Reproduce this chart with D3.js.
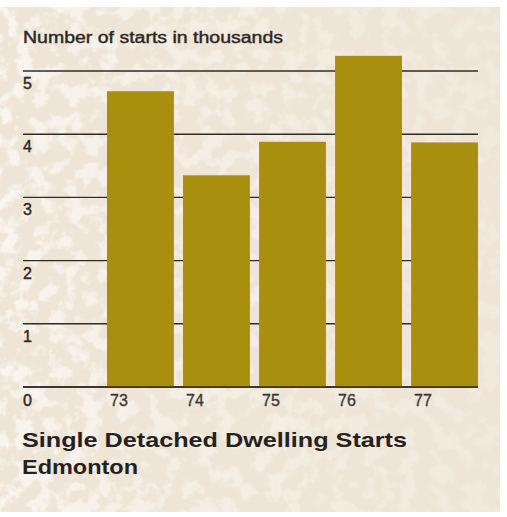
<!DOCTYPE html>
<html>
<head>
<meta charset="utf-8">
<script src="https://cdn.jsdelivr.net/npm/d3@7"></script>
<style>
  html, body { margin: 0; padding: 0; background: #ffffff; }
  svg { display: block; }
</style>
</head>
<body>
<svg id="chart" width="507" height="517"></svg>
<script>
// Single detached dwelling starts, Edmonton (thousands)
const years = ["73", "74", "75", "76", "77"];
const starts = [4.68, 3.35, 3.88, 5.24, 3.87];
const yTicks = [0, 1, 2, 3, 4, 5];

const svg = d3.select("#chart");

// Paper texture: beige panel with pale mottled patches, stronger toward the left
const defs = svg.append("defs");
const f = defs.append("filter").attr("id", "mottle")
  .attr("x", 0).attr("y", 0).attr("width", "100%").attr("height", "100%");
f.append("feTurbulence").attr("type", "fractalNoise")
  .attr("baseFrequency", "0.06").attr("numOctaves", 4).attr("seed", 7).attr("result", "n");
f.append("feColorMatrix").attr("in", "n").attr("type", "matrix")
  .attr("values", "0 0 0 0 1  0 0 0 0 1  0 0 0 0 1  0 0 0 -6 3.2").attr("result", "spots");
f.append("feComposite").attr("in", "spots").attr("in2", "SourceGraphic").attr("operator", "in");

const grad = defs.append("linearGradient").attr("id", "fade")
  .attr("x1", 0).attr("y1", 0).attr("x2", 1).attr("y2", 0);
grad.append("stop").attr("offset", "0").attr("stop-color", "#fff").attr("stop-opacity", 1);
grad.append("stop").attr("offset", "0.35").attr("stop-color", "#fff").attr("stop-opacity", 0.6);
grad.append("stop").attr("offset", "1").attr("stop-color", "#fff").attr("stop-opacity", 0.25);
defs.append("mask").attr("id", "fadeMask")
  .append("rect").attr("x", 0).attr("y", 0).attr("width", 507).attr("height", 517).attr("fill", "url(#fade)");

svg.append("rect").attr("x", 0).attr("y", 7).attr("width", 500).attr("height", 505)
  .attr("fill", "#eee5d6");
svg.append("rect").attr("x", 0).attr("y", 7).attr("width", 500).attr("height", 505)
  .attr("fill", "#eee5d6").attr("filter", "url(#mottle)").attr("mask", "url(#fadeMask)")
  .attr("opacity", 0.6);

const x = d3.scaleBand().domain(years).range([107, 478]).paddingInner(0.12).paddingOuter(0);
const y = d3.scaleLinear().domain([0, 5]).range([387, 71]);

// Gridlines
svg.append("g").selectAll("line").data(yTicks).join("line")
  .attr("x1", 23).attr("x2", 478)
  .attr("y1", d => y(d)).attr("y2", d => y(d))
  .attr("stroke", "#2e2b28").attr("stroke-width", 1.4);

// Bars
svg.append("g").selectAll("rect").data(starts).join("rect")
  .attr("x", (d, i) => x(years[i]))
  .attr("width", x.bandwidth())
  .attr("y", d => y(d))
  .attr("height", d => y(0) - y(d))
  .attr("fill", "#a8900e");

// Baseline drawn over bars
svg.append("line").attr("x1", 23).attr("x2", 478).attr("y1", y(0)).attr("y2", y(0))
  .attr("stroke", "#2e2b28").attr("stroke-width", 1.4);

const font = "'Liberation Sans', Arial, Helvetica, sans-serif";

// Y tick labels, set just under each gridline
svg.append("g").selectAll("text").data(yTicks.filter(d => d > 0)).join("text")
  .attr("x", 23).attr("y", d => y(d) + 18)
  .attr("font-family", font).attr("font-size", 16).attr("fill", "#2a2724")
  .attr("stroke", "#2a2724").attr("stroke-width", 0.4)
  .text(d => d);

svg.append("text").attr("x", 23).attr("y", 406)
  .attr("font-family", font).attr("font-size", 16).attr("fill", "#2a2724")
  .attr("stroke", "#2a2724").attr("stroke-width", 0.4).text("0");

// Year labels
svg.append("g").selectAll("text").data(years).join("text")
  .attr("x", d => x(d) + 3).attr("y", 406)
  .attr("font-family", font).attr("font-size", 16).attr("fill", "#3a3632")
  .attr("stroke", "#3a3632").attr("stroke-width", 0.3)
  .text(d => d);

// Axis caption
svg.append("text").attr("x", 23).attr("y", 43)
  .attr("font-family", font).attr("font-size", 16).attr("fill", "#2a2724")
  .attr("stroke", "#2a2724").attr("stroke-width", 0.4)
  .attr("textLength", 260).attr("lengthAdjust", "spacingAndGlyphs")
  .text("Number of starts in thousands");

// Chart title
svg.append("text").attr("x", 22).attr("y", 447)
  .attr("font-family", font).attr("font-size", 21).attr("font-weight", "bold").attr("fill", "#24211f")
  .attr("textLength", 385).attr("lengthAdjust", "spacingAndGlyphs")
  .text("Single Detached Dwelling Starts");
svg.append("text").attr("x", 22).attr("y", 474)
  .attr("font-family", font).attr("font-size", 21).attr("font-weight", "bold").attr("fill", "#24211f")
  .attr("textLength", 116).attr("lengthAdjust", "spacingAndGlyphs")
  .text("Edmonton");
</script>
</body>
</html>
